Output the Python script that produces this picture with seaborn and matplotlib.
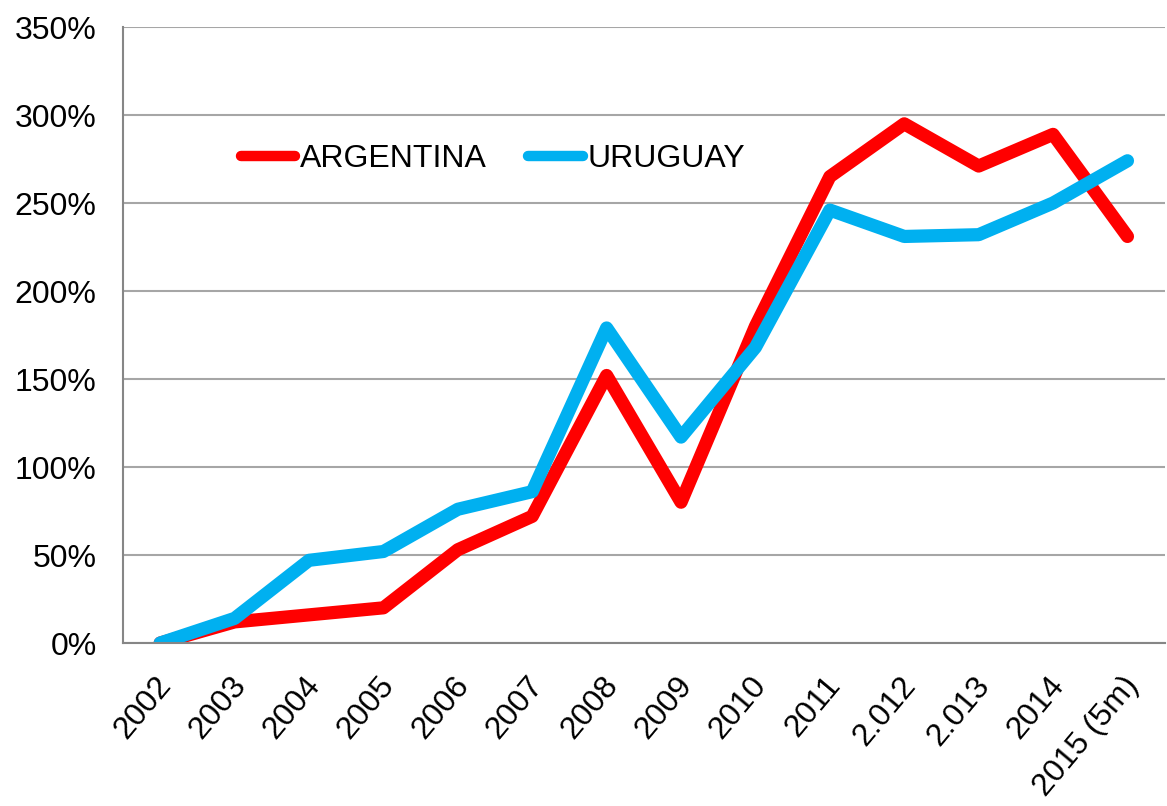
import numpy as np
import pandas as pd
import matplotlib
matplotlib.use("Agg")
import matplotlib.pyplot as plt
import matplotlib.transforms as mtransforms
import seaborn as sns
from matplotlib.ticker import PercentFormatter

# ==========================================================
# Data (growth vs 2002)
# ==========================================================
years = ["2002", "2003", "2004", "2005", "2006", "2007", "2008", "2009",
         "2010", "2011", "2.012", "2.013", "2014", "2015 (5m)"]
argentina = [0, 12, 16, 20, 53, 72, 152, 80, 180, 265, 295, 271, 289, 231]
uruguay = [0, 14, 47, 52, 76, 86, 179, 117, 168, 246, 231, 232, 250, 274]

countries = ["ARGENTINA", "URUGUAY"]
colors = {"ARGENTINA": "#FF0000", "URUGUAY": "#00B0F0"}

df = pd.DataFrame({
    "year": years * 2,
    "pos": list(range(len(years))) * 2,
    "value": [v / 100 for v in argentina + uruguay],
    "country": ["ARGENTINA"] * len(years) + ["URUGUAY"] * len(years),
})

sns.set_style("white")
plt.rcParams["font.family"] = ["Liberation Sans", "DejaVu Sans"]
plt.rcParams["text.color"] = "black"
plt.rcParams["xtick.color"] = "black"
plt.rcParams["ytick.color"] = "black"

fig = plt.figure(figsize=(11.67, 8.06), dpi=100)
ax = fig.add_axes([0.1054, 0.2022, 0.8926, 0.7643])

sns.lineplot(data=df, x="pos", y="value", hue="country", hue_order=countries,
             palette=colors, sort=False, linewidth=9.5, ax=ax,
             solid_capstyle="round", solid_joinstyle="round", clip_on=True)

# axes styling
grid_c = "#A6A6A6"
axis_c = "#868686"
fs = 23
ax.set_xlim(-0.5, len(years) - 0.5)
ax.set_ylim(0, 3.5)
ax.set_yticks(np.arange(0, 3.51, 0.5))
ax.yaxis.set_major_formatter(PercentFormatter(1.0, decimals=0))
ax.yaxis.grid(True, color=grid_c, linewidth=1.5)
ax.set_axisbelow(True)

ax.set_xticks(range(len(years)))
ax.set_xticklabels(years, rotation=50, ha="right", va="center",
                   rotation_mode="anchor")
ax.set_xticks(np.arange(-0.5, len(years)), minor=True)
ax.tick_params(axis="x", which="major", length=0, pad=27, labelsize=fs,
               labelcolor="black")
ax.tick_params(axis="x", which="minor", length=8, width=1.5, color=axis_c,
               direction="out")
ax.tick_params(axis="y", length=8, width=1.5, color=axis_c, direction="out",
               labelsize=fs, pad=11, labelcolor="black")

# nudge the rotated year labels a little to the right
shift = mtransforms.ScaledTranslation(6 / 100, 0, fig.dpi_scale_trans)
for lbl in ax.get_xticklabels():
    lbl.set_transform(lbl.get_transform() + shift)

for side in ["top", "right"]:
    ax.spines[side].set_visible(False)
for side in ["left", "bottom"]:
    ax.spines[side].set_color(axis_c)
    ax.spines[side].set_linewidth(1.5)

ax.set_xlabel("")
ax.set_ylabel("")

leg = ax.legend(loc="center left", bbox_to_anchor=(0.0856, 0.785), ncol=2,
                frameon=False, fontsize=fs, handlelength=1.7,
                handletextpad=0.15, columnspacing=1.3)
for line in leg.get_lines():
    line.set_linewidth(7.5)
    line.set_solid_capstyle("round")

fig.savefig("out.png", dpi=100)
